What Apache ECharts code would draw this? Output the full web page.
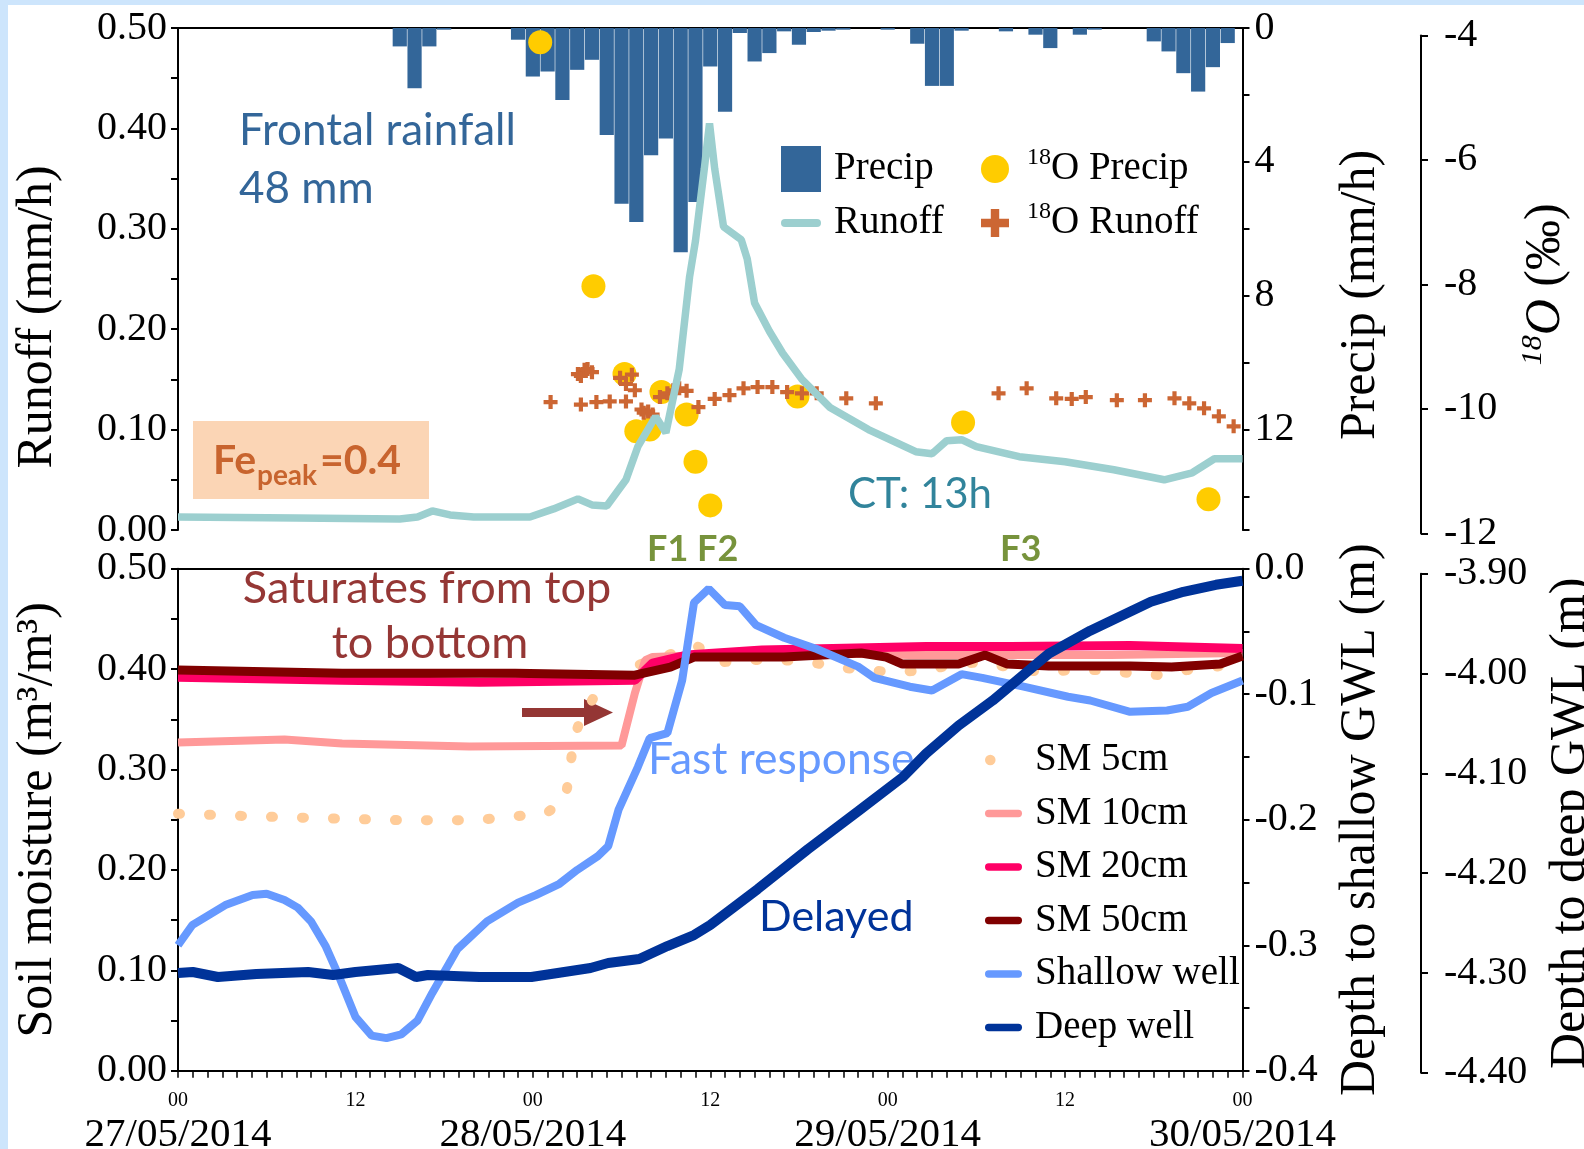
<!DOCTYPE html>
<html>
<head>
<meta charset="utf-8">
<script src="https://cdn.jsdelivr.net/npm/echarts@6/dist/echarts.min.js"></script>
<style>
  html, body { margin: 0; padding: 0; background: #ffffff; }
  #main { width: 1584px; height: 1149px; }
</style>
</head>
<body>
<div id="main"></div>
<script type="text/javascript">
// hours since 27/05/2014 00:00
var hourTicks = ['00', '12'];
var dateLabels = ['27/05/2014', '28/05/2014', '29/05/2014', '30/05/2014'];

// hourly precipitation (mm/h), hour 0..72
var precipMm = [0,0,0,0,0,0,0,0,0,0,0,0,0,0,0,
  0.55,1.8,0.55,0.05,0,0,0,0,
  0.35,1.45,1.3,2.15,1.25,0.95,3.2,5.25,5.8,3.8,3.3,6.7,5.2,1.15,2.5,0.15,1.0,0.75,0.1,0.5,0.12,0.08,0.05,
  0,0,0.05,0,0.47,1.73,1.73,0.08,0,0,0.1,0,0.2,0.6,0,0.2,0.05,0,0,0,
  0.4,0.7,1.35,1.9,1.17,0.45,0];

// runoff (mm/h)
var runoff = [[0,0.013],[8,0.012],[15,0.011],[16.2,0.013],[17.2,0.019],[18.4,0.015],[20,0.013],[23.8,0.013],
  [25.4,0.021],[27.05,0.031],[28,0.025],[29,0.024],[30.3,0.05],[31.1,0.083],[32.3,0.113],[33,0.097],
  [33.9,0.16],[34.6,0.252],[35,0.288],[35.6,0.36],[35.95,0.405],[36.3,0.36],[36.9,0.302],[38.1,0.289],
  [38.5,0.27],[39,0.226],[40,0.198],[40.9,0.176],[42.2,0.15],[44.1,0.122],[46.7,0.1],[49.9,0.078],
  [51,0.076],[52,0.089],[53,0.09],[54,0.083],[56.9,0.073],[60,0.068],[63.3,0.06],[66.7,0.05],
  [68.6,0.057],[70.1,0.071],[72,0.071]];

// delta 18O (permil)
var o18Precip = [[24.5,-4.11],[28.1,-8.03],[30.2,-9.44],[31.0,-10.36],[31.9,-10.33],[32.7,-9.73],
  [34.4,-10.09],[35.0,-10.85],[36.0,-11.55],[41.9,-9.80],[53.1,-10.22],[69.7,-11.45]];
var o18Runoff = [[25.2,-9.89],[27.05,-9.44],[27.25,-9.47],[27.5,-9.37],[27.7,-9.36],[28.0,-9.41],
  [27.25,-9.93],[28.3,-9.89],[29.2,-9.88],[30.3,-9.88],[29.9,-9.5],[30.3,-9.6],[30.7,-9.45],[30.9,-9.7],
  [31.35,-10.01],[31.5,-10.06],[31.8,-10.04],[32.1,-10.09],[32.6,-9.81],[33.1,-9.75],[33.5,-9.7],
  [33.9,-9.67],[34.4,-9.71],[35.2,-9.97],[36.3,-9.84],[37.3,-9.78],[38.25,-9.67],[39.2,-9.65],
  [40.2,-9.65],[41.2,-9.73],[42.2,-9.75],[43.2,-9.75],[45.2,-9.83],[47.2,-9.91],[55.5,-9.75],
  [57.4,-9.67],[59.4,-9.83],[60.45,-9.84],[61.4,-9.81],[63.5,-9.86],[65.4,-9.86],[67.4,-9.83],
  [68.4,-9.91],[69.4,-9.99],[70.4,-10.12],[71.4,-10.28]];

// soil moisture (m3/m3)
var sm5 = [[0,0.256],[5,0.2535],[9.8,0.2515],[15.3,0.2495],[20.1,0.2495],[24.9,0.2565],[26.2,0.27],
  [26.5,0.3],[26.8,0.333],[27.3,0.352],[28.3,0.376],[30,0.399],[32.4,0.41],[35,0.424],[36.8,0.407],
  [39,0.409],[40.8,0.409],[42.8,0.407],[44.5,0.402],[46.4,0.399],[48.6,0.397],[50.6,0.399],[52.6,0.405],
  [54.5,0.407],[56.4,0.401],[58.5,0.397],[60.4,0.399],[62.4,0.399],[64.4,0.396],[66.4,0.394],
  [68.2,0.399],[70.1,0.402],[72,0.408]];
var sm10 = [[0,0.327],[7.2,0.33],[11.1,0.326],[19.7,0.323],[30,0.324],[30.9,0.376],[31.6,0.409],
  [32.1,0.412],[35.8,0.414],[42.6,0.416],[49.5,0.414],[56.3,0.414],[63.1,0.414],[72,0.416]];
var sm20 = [[0,0.392],[11.1,0.389],[20.4,0.387],[30.9,0.389],[32.1,0.406],[34.4,0.414],[39.5,0.419],
  [50.6,0.4225],[56.3,0.4225],[64.4,0.4235],[72,0.4205]];
var sm50 = [[0,0.399],[11.1,0.396],[22.8,0.396],[30.9,0.394],[33.3,0.402],[34.9,0.412],[41,0.412],
  [46.2,0.416],[47.9,0.412],[49,0.405],[52.8,0.405],[54.6,0.414],[56.1,0.405],[58.9,0.403],[64.4,0.403],
  [67.2,0.402],[70.5,0.405],[72,0.413]];

// groundwater levels (m)
var shallowWell = [[0,-0.3],[0.96,-0.284],[1.8,-0.278],[3.2,-0.268],[5.05,-0.26],[6,-0.259],[7.2,-0.264],
  [8.1,-0.27],[9,-0.281],[10,-0.301],[10.9,-0.325],[12,-0.357],[13.1,-0.372],[14.1,-0.374],[15.1,-0.371],
  [16.2,-0.36],[17.2,-0.338],[18.9,-0.303],[20.9,-0.281],[23,-0.266],[24.2,-0.26],[25.8,-0.251],
  [27,-0.24],[28.4,-0.229],[29.1,-0.221],[29.8,-0.192],[31.1,-0.158],[31.9,-0.135],[33.1,-0.131],
  [34.1,-0.089],[34.9,-0.027],[35.9,-0.016],[37,-0.029],[38,-0.03],[39.1,-0.045],[41,-0.055],
  [43.2,-0.064],[46,-0.078],[47.1,-0.087],[49.5,-0.094],[51,-0.097],[53,-0.084],[54.4,-0.087],
  [57.2,-0.094],[60.2,-0.102],[61.7,-0.105],[64.4,-0.114],[66.9,-0.113],[68.3,-0.11],[69.9,-0.099],
  [72,-0.089]];
var deepWell = [[0,-4.3],[1,-4.299],[2.7,-4.304],[5.3,-4.301],[8.8,-4.299],[10.5,-4.302],[12,-4.299],
  [14.9,-4.295],[16.1,-4.304],[16.9,-4.302],[20.4,-4.304],[23.9,-4.304],[27.9,-4.295],[29.1,-4.29],
  [31.2,-4.286],[33.1,-4.273],[34.9,-4.262],[36,-4.252],[39.2,-4.216],[42.6,-4.176],[46,-4.138],
  [49,-4.104],[50.6,-4.08],[52.8,-4.052],[55.1,-4.027],[57.2,-4.001],[58.9,-3.98],[61.7,-3.957],
  [65.8,-3.928],[68,-3.918],[70.2,-3.911],[72,-3.907]];

var serif = 'Liberation Serif';
var sans = 'Lato';
var plusPath = 'path://M3.5,0H6.5V3.5H10V6.5H6.5V10H3.5V6.5H0V3.5H3.5Z';
var barPath = 'path://M4,0H36A4,4,0,0,1,36,8H4A4,4,0,0,1,4,0Z';
var dotPath = 'path://M7,0A5,5,0,1,1,7,10A5,5,0,1,1,7,0ZM36.9,5L37,5L37,5.1Z';

function axLine() { return { show: true, onZero: false, lineStyle: { color: '#000', width: 2 } }; }
function axTick(show) { return { show: show, length: 7, lineStyle: { color: '#000', width: 2 } }; }
function minTick(n) { return { show: n > 0, splitNumber: n || 2, length: 7, lineStyle: { color: '#000', width: 2 } }; }
function axLabel(margin, dec) {
  return {
    show: true, margin: margin, color: '#000', fontFamily: serif, fontSize: 40,
    formatter: function (v) { return Math.abs(v) < 1e-9 ? (0).toFixed(dec) : v.toFixed(dec); }
  };
}
function nameStyle(pad) {
  return { fontFamily: serif, fontSize: 50, color: '#000', padding: pad || 0 };
}
var legendText = {
  fontFamily: serif, fontSize: 39, color: '#000', lineHeight: 46,
  rich: {
    s: { fontFamily: serif, fontSize: 24, lineHeight: 24, verticalAlign: 'top', color: '#000' },
    t: { fontFamily: serif, fontSize: 39, lineHeight: 46, color: '#000' }
  }
};

var chart = echarts.init(document.getElementById('main'));
chart.setOption({
  animation: false,
  backgroundColor: '#ffffff',
  grid: [
    { left: 178, right: 341.5, top: 28, bottom: 619, outerBoundsMode: 'none' },
    { left: 178, right: 341.5, top: 35.4, bottom: 615.6, outerBoundsMode: 'none' },
    { left: 178, right: 341.5, top: 568.7, bottom: 78.2, outerBoundsMode: 'none' },
    { left: 178, right: 341.5, top: 573.8, bottom: 76.2, outerBoundsMode: 'none' }
  ],
  xAxis: [
    { type: 'value', gridIndex: 0, min: 0, max: 72, position: 'top', axisLine: axLine(),
      axisTick: { show: false }, axisLabel: { show: false }, splitLine: { show: false } },
    { type: 'value', gridIndex: 1, min: 0, max: 72, show: false },
    { type: 'value', gridIndex: 2, min: 0, max: 72, interval: 12, position: 'bottom',
      axisLine: axLine(),
      axisTick: { show: true, length: 7, lineStyle: { color: '#000', width: 1.5 } },
      minorTick: { show: true, splitNumber: 12, length: 7, lineStyle: { color: '#000', width: 1.5 } },
      splitLine: { show: false },
      axisLabel: {
        margin: 18, color: '#000', fontFamily: serif,
        formatter: function (v) {
          var k = Math.round(v / 12);
          if (k % 2 === 0) return '{h|' + hourTicks[0] + '}\n{d|' + dateLabels[k / 2] + '}';
          return '{h|' + hourTicks[1] + '}';
        },
        rich: {
          h: { fontFamily: serif, fontSize: 20, lineHeight: 24, color: '#000' },
          d: { fontFamily: serif, fontSize: 41, lineHeight: 44, color: '#000' }
        }
      } },
    { type: 'value', gridIndex: 3, min: 0, max: 72, show: false },
    { type: 'value', gridIndex: 2, min: 0, max: 72, position: 'top', axisLine: axLine(),
      axisTick: { show: false }, axisLabel: { show: false }, splitLine: { show: false } }
  ],
  yAxis: [
    { type: 'value', gridIndex: 0, position: 'left', min: 0, max: 0.5, interval: 0.1,
      name: 'Runoff (mm/h)', nameLocation: 'middle', nameGap: 115, nameMoveOverlap: false,
      nameTextStyle: nameStyle([0, 76, 0, 0]),
      axisLine: axLine(), axisTick: axTick(true), minorTick: minTick(2),
      splitLine: { show: false }, axisLabel: axLabel(11, 2) },
    { type: 'value', gridIndex: 0, position: 'right', inverse: true, min: 0, max: 15, interval: 4,
      name: 'Precip (mm/h)', nameLocation: 'middle', nameGap: 93, nameMoveOverlap: false,
      nameTextStyle: nameStyle([0, 32, 0, 0]),
      axisLine: axLine(), axisTick: axTick(true), minorTick: minTick(2),
      splitLine: { show: false },
      axisLabel: { margin: 12, color: '#000', fontFamily: serif, fontSize: 40, showMaxLabel: false,
        formatter: function (v) { return v > 14 ? '' : String(v); } } },
    { type: 'value', gridIndex: 1, position: 'right', offset: 178.5, min: -12, max: -4, interval: 2,
      name: '{s|18}{o|O} (‰)', nameLocation: 'middle', nameGap: 97, nameMoveOverlap: false,
      nameTextStyle: {
        fontFamily: serif, fontSize: 50, color: '#000',
        rich: {
          s: { fontFamily: serif, fontSize: 30, fontStyle: 'italic', verticalAlign: 'top', lineHeight: 30, color: '#000' },
          o: { fontFamily: serif, fontSize: 50, fontStyle: 'italic', lineHeight: 56, color: '#000' }
        }
      },
      axisLine: axLine(), axisTick: axTick(true), minorTick: minTick(0),
      splitLine: { show: false }, axisLabel: axLabel(23, 0) },
    { type: 'value', gridIndex: 2, position: 'left', min: 0, max: 0.5, interval: 0.1,
      name: 'Soil moisture (m³/m³)', nameLocation: 'middle', nameGap: 115, nameMoveOverlap: false,
      nameTextStyle: nameStyle(),
      axisLine: axLine(), axisTick: axTick(true), minorTick: minTick(2),
      splitLine: { show: false }, axisLabel: axLabel(11, 2) },
    { type: 'value', gridIndex: 2, position: 'right', min: -0.4, max: 0, interval: 0.1,
      name: 'Depth to shallow GWL (m)', nameLocation: 'middle', nameGap: 93, nameMoveOverlap: false,
      nameTextStyle: nameStyle(),
      axisLine: axLine(), axisTick: axTick(true), minorTick: minTick(2),
      splitLine: { show: false }, axisLabel: axLabel(12, 1) },
    { type: 'value', gridIndex: 3, position: 'right', offset: 178.5, min: -4.4, max: -3.9, interval: 0.1,
      name: 'Depth to deep GWL (m)', nameLocation: 'middle', nameGap: 125, nameMoveOverlap: false,
      nameTextStyle: nameStyle(),
      axisLine: axLine(), axisTick: axTick(true), minorTick: minTick(0),
      splitLine: { show: false }, axisLabel: axLabel(23, 2) }
  ],
  legend: [
    { orient: 'vertical', left: 781, top: 146, padding: 0, itemWidth: 40, itemHeight: 46, itemGap: 8,
      data: [{ name: 'Precip', icon: 'rect' }, { name: 'Runoff', icon: barPath }],
      textStyle: Object.assign({ padding: [0, 0, 0, 8] }, legendText) },
    { orient: 'vertical', left: 981, top: 146, padding: 0, itemWidth: 28, itemHeight: 46, itemGap: 8,
      data: [{ name: '18O Precip', icon: 'circle' }, { name: '18O Runoff', icon: plusPath }],
      formatter: function (name) { return '{s|18}{t|' + name.slice(2) + '}'; },
      textStyle: Object.assign({ padding: [0, 0, 0, 13] }, legendText) },
    { orient: 'vertical', left: 985, top: 740, padding: 0, itemWidth: 37, itemHeight: 40, itemGap: 13.5,
      data: [
        { name: 'SM 5cm', icon: dotPath },
        { name: 'SM 10cm', icon: barPath },
        { name: 'SM 20cm', icon: barPath },
        { name: 'SM 50cm', icon: barPath },
        { name: 'Shallow well', icon: barPath },
        { name: 'Deep well', icon: barPath }
      ],
      textStyle: { fontFamily: serif, fontSize: 39, color: '#000', lineHeight: 40, padding: [0, 0, 0, 8] } }
  ],
  series: [
    { name: 'Precip', type: 'bar', xAxisIndex: 0, yAxisIndex: 1, barWidth: 14.2,
      itemStyle: { color: '#336699' }, data: precipMm.map(function (v, i) { return [i, v]; }) },
    { name: 'Runoff', type: 'line', xAxisIndex: 0, yAxisIndex: 0, symbol: 'none',
      lineStyle: { color: '#9ccfcf', width: 7.5 }, itemStyle: { color: '#9ccfcf' }, data: runoff },
    { name: '18O Precip', type: 'scatter', xAxisIndex: 1, yAxisIndex: 2, symbol: 'circle', symbolSize: 24,
      itemStyle: { color: '#ffcc00', opacity: 1 }, data: o18Precip },
    { name: '18O Runoff', type: 'scatter', xAxisIndex: 1, yAxisIndex: 2, symbol: plusPath, symbolSize: 14,
      itemStyle: { color: '#cc6633', opacity: 1 }, data: o18Runoff },
    { name: 'SM 5cm', type: 'line', xAxisIndex: 2, yAxisIndex: 3, symbol: 'none',
      lineStyle: { color: '#ffcc99', width: 10, type: [2, 29], cap: 'round' }, itemStyle: { color: '#ffcc99' }, data: sm5 },
    { name: 'SM 10cm', type: 'line', xAxisIndex: 2, yAxisIndex: 3, symbol: 'none',
      lineStyle: { color: '#ff9999', width: 8 }, itemStyle: { color: '#ff9999' }, data: sm10 },
    { name: 'SM 20cm', type: 'line', xAxisIndex: 2, yAxisIndex: 3, symbol: 'none',
      lineStyle: { color: '#ff0066', width: 9 }, itemStyle: { color: '#ff0066' }, data: sm20 },
    { name: 'SM 50cm', type: 'line', xAxisIndex: 2, yAxisIndex: 3, symbol: 'none',
      lineStyle: { color: '#800000', width: 9 }, itemStyle: { color: '#800000' }, data: sm50 },
    { name: 'Shallow well', type: 'line', xAxisIndex: 2, yAxisIndex: 4, symbol: 'none',
      lineStyle: { color: '#6699ff', width: 8 }, itemStyle: { color: '#6699ff' }, data: shallowWell },
    { name: 'Deep well', type: 'line', xAxisIndex: 3, yAxisIndex: 5, symbol: 'none',
      lineStyle: { color: '#003399', width: 10 }, itemStyle: { color: '#003399' }, data: deepWell }
  ],
  graphic: [
    // light blue page edge
    { type: 'rect', shape: { x: 0, y: 0, width: 8, height: 1149 }, style: { fill: '#cde5fc' }, silent: true },
    { type: 'rect', shape: { x: 0, y: 0, width: 1584, height: 5 }, style: { fill: '#cde5fc' }, silent: true },
    // annotations
    { type: 'text', x: 239, y: 131, style: { text: 'Frontal rainfall', font: '44px ' + sans, fill: '#336699', textVerticalAlign: 'middle' } },
    { type: 'text', x: 239, y: 189, style: { text: '48 mm', font: '44px ' + sans, fill: '#336699', textVerticalAlign: 'middle' } },
    { type: 'rect', shape: { x: 193, y: 421, width: 236, height: 78 }, style: { fill: '#fbd5b5' } },
    { type: 'text', x: 213, y: 461, style: { text: 'Fe', font: 'bold 41px ' + sans, fill: '#c8642e', textVerticalAlign: 'middle' } },
    { type: 'text', x: 257, y: 476, style: { text: 'peak', font: 'bold 28px ' + sans, fill: '#c8642e', textVerticalAlign: 'middle' } },
    { type: 'text', x: 320, y: 461, style: { text: '=0.4', font: 'bold 41px ' + sans, fill: '#c8642e', textVerticalAlign: 'middle' } },
    { type: 'text', x: 848, y: 494, style: { text: 'CT: 13h', font: '42px ' + sans, fill: '#31849b', textVerticalAlign: 'middle' } },
    { type: 'text', x: 647, y: 549, style: { text: 'F1', font: 'bold 36px ' + sans, fill: '#77933c', textVerticalAlign: 'middle' } },
    { type: 'text', x: 697, y: 549, style: { text: 'F2', font: 'bold 36px ' + sans, fill: '#77933c', textVerticalAlign: 'middle' } },
    { type: 'text', x: 1000, y: 549, style: { text: 'F3', font: 'bold 36px ' + sans, fill: '#77933c', textVerticalAlign: 'middle' } },
    { type: 'text', x: 427, y: 588, style: { text: 'Saturates from top', font: '45px ' + sans, fill: '#953735', textAlign: 'center', textVerticalAlign: 'middle' } },
    { type: 'text', x: 430, y: 643, style: { text: 'to bottom', font: '45px ' + sans, fill: '#953735', textAlign: 'center', textVerticalAlign: 'middle' } },
    { type: 'rect', shape: { x: 522, y: 708, width: 64, height: 9 }, style: { fill: '#943634' } },
    { type: 'polygon', shape: { points: [[584, 699], [613, 712.5], [584, 726]] }, style: { fill: '#943634' } },
    { type: 'text', x: 648, y: 760, style: { text: 'Fast response', font: '44.5px ' + sans, fill: '#6699ff', textVerticalAlign: 'middle' } },
    { type: 'text', x: 759, y: 917, style: { text: 'Delayed', font: '43px ' + sans, fill: '#003399', textVerticalAlign: 'middle' } }
  ]
});
</script>
</body>
</html>
